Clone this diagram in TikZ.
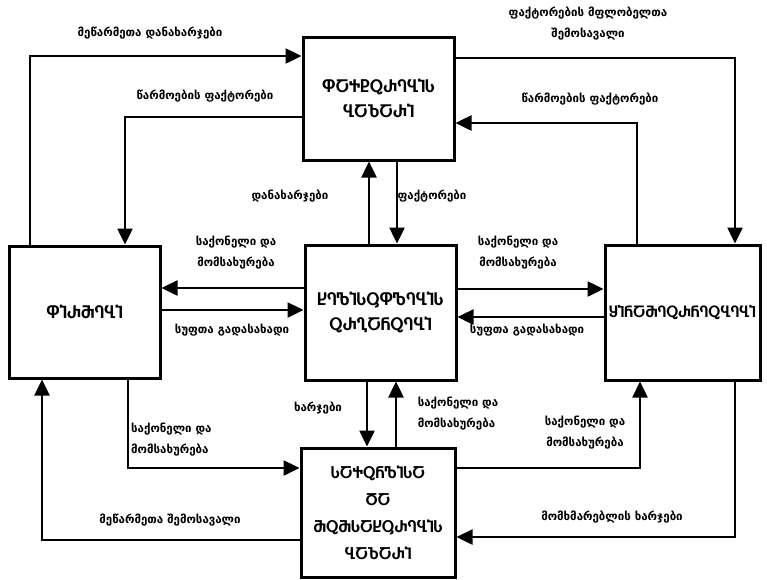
\documentclass[tikz,border=0pt]{standalone}
\usepackage{fontspec}
\setmainfont{DejaVu Sans}
\usetikzlibrary{arrows.meta}
\begin{document}
\begin{tikzpicture}[x=1pt,y=-1pt,
  box/.style={draw,line width=3pt,inner sep=0pt,align=center,font=\bfseries\fontsize{15.5}{25}\selectfont},
  arr/.style={line width=2.5pt,-{Triangle[length=16pt,width=15pt]}},
  lbl/.style={inner sep=1pt,align=center,font=\bfseries\fontsize{11.5}{21}\selectfont}]
\useasboundingbox (0,0) rectangle (767,579);
% boxes
\node[box,minimum width=151pt,minimum height=123pt] (T) at (378.5,98.5) {ႴႠႵႲႭႰႤႡႨႱ\\ႡႠႦႠႰႨ};
\node[box,minimum width=151pt,minimum height=132pt] (F) at (84.5,312) {ႴႨႰႫႤႡႨ};
\node[box,minimum width=151pt,minimum height=135pt] (C) at (380.5,312.5) {ႾႤႪႨႱႳႴႪႤႡႨႱ\\ႭႰႢႠႬႭႤႡႨ};
\node[box,minimum width=155pt,minimum height=135pt,font=\bfseries\fontsize{14}{20}\selectfont] (H) at (682.5,312.5) {ႸႨႬႠႫႤႭႰႬႤႭႡႤႡႨ};
\node[box,minimum width=154pt,minimum height=129pt,font=\bfseries\fontsize{14.5}{27}\selectfont] (B) at (378,512.5) {ႱႠႵႭႬႪႨႱႠ\\ႣႠ\\ႫႭႫႱႠႾႳႰႤႡႨႱ\\ႡႠႦႠႰႨ};
% helper coordinates
\coordinate (c30) at (30,0);   \coordinate (c125) at (125,0);
\coordinate (c735) at (735,0); \coordinate (c637) at (637,0);
\coordinate (c369) at (369,0); \coordinate (c397) at (397,0);
\coordinate (c367) at (367,0); \coordinate (c396) at (396,0);
\coordinate (c128) at (128,0); \coordinate (c42) at (42,0);
\coordinate (c640) at (640,0);
\coordinate (r56) at (0,56);   \coordinate (r117) at (0,117);
\coordinate (r58) at (0,58);   \coordinate (r123) at (0,123);
\coordinate (r288) at (0,288); \coordinate (r310) at (0,310);
\coordinate (r289) at (0,289); \coordinate (r317) at (0,317);
\coordinate (r468) at (0,468); \coordinate (r540) at (0,540);
\coordinate (r537) at (0,537);
% connectors
\draw[arr] (F.north -| c30) |- (T.west |- r56);
\draw[arr] (T.west |- r117) -| (F.north -| c125);
\draw[arr] (T.east |- r58) -| (H.north -| c735);
\draw[arr] (H.north -| c637) |- (T.east |- r123);
\draw[arr] (C.north -| c369) -- (T.south -| c369);
\draw[arr] (T.south -| c397) -- (C.north -| c397);
\draw[arr] (C.west |- r288) -- (F.east |- r288);
\draw[arr] (F.east |- r310) -- (C.west |- r310);
\draw[arr] (C.east |- r289) -- (H.west |- r289);
\draw[arr] (H.west |- r317) -- (C.east |- r317);
\draw[arr] (C.south -| c367) -- (B.north -| c367);
\draw[arr] (B.north -| c396) -- (C.south -| c396);
\draw[arr] (F.south -| c128) |- (B.west |- r468);
\draw[arr] (B.west |- r540) -| (F.south -| c42);
\draw[arr] (B.east |- r468) -| (H.south -| c640);
\draw[arr] (H.south -| c735) |- (B.east |- r537);
% labels
\node[lbl] (l1) at (150,33) {მეწარმეთა დანახარჯები};
\node[lbl] (l2) at (205,96) {წარმოების ფაქტორები};
\node[lbl] (l3) at (588,24) {ფაქტორების მფლობელთა\\შემოსავალი};
\node[lbl] (l4) at (590,99) {წარმოების ფაქტორები};
\node[lbl] (l5) at (290,196) {დანახარჯები};
\node[lbl] (l6) at (432,196) {ფაქტორები};
\node[lbl] (l7) at (236,253) {საქონელი და\\მომსახურება};
\node[lbl] (l8) at (232,330) {სუფთა გადასახადი};
\node[lbl] (l9) at (518,253) {საქონელი და\\მომსახურება};
\node[lbl] (l10) at (527,330) {სუფთა გადასახადი};
\node[lbl] (l11) at (318,408) {ხარჯები};
\node[lbl,align=left] (l12) at (458,414) {საქონელი და\\მომსახურება};
\node[lbl,align=left,anchor=west] (l13) at (130,440) {საქონელი და\\მომსახურება};
\node[lbl] (l14) at (585,433) {საქონელი და\\მომსახურება};
\node[lbl] (l15) at (170,520) {მეწარმეთა შემოსავალი};
\node[lbl] (l16) at (612,517) {მომხმარებლის ხარჯები};
\end{tikzpicture}
\end{document}
